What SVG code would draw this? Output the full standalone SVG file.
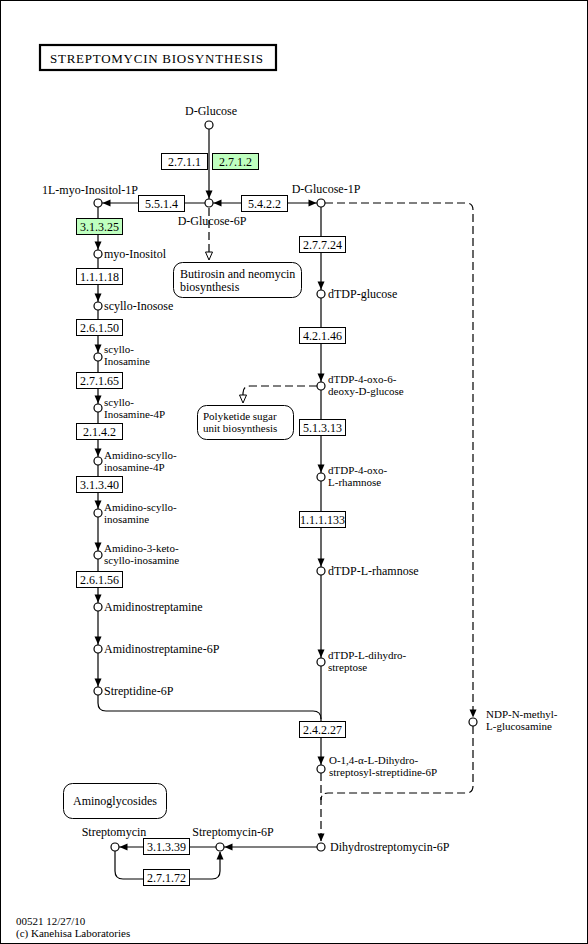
<svg xmlns="http://www.w3.org/2000/svg" xmlns:xlink="http://www.w3.org/1999/xlink" width="588" height="944" viewBox="0 0 588 944">
<style>
text{font-family:"Liberation Serif","Times New Roman",serif;font-size:12px;fill:#000}
.s{font-size:11px}
.m{text-anchor:middle}
.e{fill:#fff;stroke:#000;stroke-width:1}
.g{fill:#bfffbf;stroke:#000;stroke-width:1}
.map{fill:#fff;stroke:#000;stroke-width:1}
.c{fill:#fff;stroke:#000;stroke-width:1.2}
.ln{fill:none;stroke:#000;stroke-width:1.2}
.dl{fill:none;stroke:#000;stroke-width:1.2;stroke-dasharray:8,4}
</style>
<defs>
<polygon id="ah" points="0,0 -3.5,-8 3.5,-8" fill="#000"/>
<polygon id="oh" points="0,0 -3.5,-8 3.5,-8" fill="#fff" stroke="#000" stroke-width="1"/>
</defs>
<rect x="0.5" y="0.5" width="587" height="943" fill="#fff" stroke="#000" stroke-width="1"/>
<g id="title">
<rect x="40" y="45" width="236" height="25" fill="#fff" stroke="#000" stroke-width="2.2"/>
<text x="50" y="63" textLength="213" lengthAdjust="spacing" style="font-size:13px">STREPTOMYCIN  BIOSYNTHESIS</text>
</g>
<g id="connectors">
<path class="ln" d="M209,129 V199"/>
<path class="ln" d="M205,203 H102"/>
<path class="ln" d="M213,203 H317"/>
<path class="dl" d="M209,208 V252"/>
<path class="ln" d="M98,207 V687"/>
<path class="ln" d="M98,695 V703 Q98,711 106,711 H313 Q321,711 321,719"/>
<path class="ln" d="M321,207 V765"/>
<path class="dl" d="M321,773 V842"/>
<path class="dl" d="M325,203 H466 Q473,203 473,210 V718"/>
<path class="dl" d="M473,726 V786 Q473,793 466,793 H328 Q321,793 321,800"/>
<path class="dl" d="M317,386 H250 Q243,386 243,393 V395"/>
<path class="ln" d="M317,847 H224"/>
<path class="ln" d="M216,847 H119"/>
<path class="ln" d="M115,851 V871 Q115,879 123,879 H212 Q220,879 220,871 V852"/>
<use xlink:href="#ah" transform="translate(209,198.5)"/>
<use xlink:href="#ah" transform="translate(102.5,203) rotate(90)"/>
<use xlink:href="#ah" transform="translate(213.5,203) rotate(90)"/>
<use xlink:href="#ah" transform="translate(316.5,203) rotate(-90)"/>
<use xlink:href="#oh" transform="translate(209,260)"/>
<use xlink:href="#oh" transform="translate(243,403)"/>
<use xlink:href="#ah" transform="translate(98,249.5)"/>
<use xlink:href="#ah" transform="translate(98,301.5)"/>
<use xlink:href="#ah" transform="translate(98,352.5)"/>
<use xlink:href="#ah" transform="translate(98,403.5)"/>
<use xlink:href="#ah" transform="translate(98,456.5)"/>
<use xlink:href="#ah" transform="translate(98,508.5)"/>
<use xlink:href="#ah" transform="translate(98,550.5)"/>
<use xlink:href="#ah" transform="translate(98,602.5)"/>
<use xlink:href="#ah" transform="translate(98,644.5)"/>
<use xlink:href="#ah" transform="translate(98,686.5)"/>
<use xlink:href="#ah" transform="translate(321,289.5)"/>
<use xlink:href="#ah" transform="translate(321,381.5)"/>
<use xlink:href="#ah" transform="translate(321,472.5)"/>
<use xlink:href="#ah" transform="translate(321,566.5)"/>
<use xlink:href="#ah" transform="translate(321,657.5)"/>
<use xlink:href="#ah" transform="translate(321,764.5)"/>
<use xlink:href="#ah" transform="translate(321,841.5)"/>
<use xlink:href="#ah" transform="translate(473,717.5)"/>
<use xlink:href="#ah" transform="translate(224.5,847) rotate(90)"/>
<use xlink:href="#ah" transform="translate(119.5,847) rotate(90)"/>
<use xlink:href="#ah" transform="translate(220,851.5) rotate(180)"/>
</g>
<g id="enzymes">
<g id="e271_1"><rect class="e" x="161.5" y="153.5" width="46" height="16"/><text class="m" x="184.5" y="166">2.7.1.1</text></g>
<g id="e271_2"><rect class="g" x="212.5" y="153.5" width="46" height="16"/><text class="m" x="235.5" y="166">2.7.1.2</text></g>
<g id="e5514"><rect class="e" x="138.5" y="195.5" width="46" height="16"/><text class="m" x="161.5" y="208">5.5.1.4</text></g>
<g id="e5422"><rect class="e" x="241.5" y="195.5" width="46" height="16"/><text class="m" x="264.5" y="208">5.4.2.2</text></g>
<g id="e31325"><rect class="g" x="76.5" y="218.5" width="46" height="16"/><text class="m" x="99.5" y="231">3.1.3.25</text></g>
<g id="e11118"><rect class="e" x="76.5" y="268.5" width="46" height="16"/><text class="m" x="99.5" y="281">1.1.1.18</text></g>
<g id="e26150"><rect class="e" x="76.5" y="319.5" width="46" height="16"/><text class="m" x="99.5" y="332">2.6.1.50</text></g>
<g id="e27165"><rect class="e" x="76.5" y="372.5" width="46" height="16"/><text class="m" x="99.5" y="385">2.7.1.65</text></g>
<g id="e2142"><rect class="e" x="76.5" y="423.5" width="46" height="16"/><text class="m" x="99.5" y="436">2.1.4.2</text></g>
<g id="e31340"><rect class="e" x="76.5" y="476.5" width="46" height="16"/><text class="m" x="99.5" y="489">3.1.3.40</text></g>
<g id="e26156"><rect class="e" x="76.5" y="571.5" width="46" height="16"/><text class="m" x="99.5" y="584">2.6.1.56</text></g>
<g id="e27724"><rect class="e" x="299.5" y="236.5" width="46" height="16"/><text class="m" x="322.5" y="249">2.7.7.24</text></g>
<g id="e42146"><rect class="e" x="299.5" y="327.5" width="46" height="16"/><text class="m" x="322.5" y="340">4.2.1.46</text></g>
<g id="e51313"><rect class="e" x="299.5" y="419.5" width="46" height="16"/><text class="m" x="322.5" y="432">5.1.3.13</text></g>
<g id="e111133"><rect class="e" x="299.5" y="511.5" width="46" height="16"/><text class="m" x="322.5" y="524">1.1.1.133</text></g>
<g id="e24227"><rect class="e" x="299.5" y="721.5" width="46" height="16"/><text class="m" x="322.5" y="734">2.4.2.27</text></g>
<g id="e31339"><rect class="e" x="143.5" y="838.5" width="46" height="16"/><text class="m" x="166.5" y="851">3.1.3.39</text></g>
<g id="e27172"><rect class="e" x="143.5" y="869.5" width="46" height="16"/><text class="m" x="166.5" y="882">2.7.1.72</text></g>
</g>
<g id="maps">
<g id="map_butirosin"><rect class="map" x="173.5" y="262.5" width="128" height="35" rx="9"/><text x="180" y="278">Butirosin and neomycin</text><text x="180" y="291">biosynthesis</text></g>
<g id="map_polyketide"><rect class="map" x="197.5" y="405.5" width="96" height="34" rx="9"/><text class="s" x="203" y="420">Polyketide sugar</text><text class="s" x="203" y="432">unit biosynthesis</text></g>
<g id="map_aminoglycosides"><rect class="map" x="63.5" y="783.5" width="103" height="35" rx="9"/><text class="m" x="115" y="805">Aminoglycosides</text></g>
</g>
<g id="compounds">
<g id="c_dglucose"><circle class="c" cx="209" cy="125" r="4"/><text class="m" x="211" y="115">D-Glucose</text></g>
<g id="c_dglucose6p"><circle class="c" cx="209" cy="203" r="4"/><text class="m" x="212" y="225">D-Glucose-6P</text></g>
<g id="c_inositol1p"><circle class="c" cx="98" cy="203" r="4"/><text class="m" x="90" y="194">1L-myo-Inositol-1P</text></g>
<g id="c_dglucose1p"><circle class="c" cx="321" cy="203" r="4"/><text class="m" x="326" y="193">D-Glucose-1P</text></g>
<g id="c_myoinositol"><circle class="c" cx="98" cy="254" r="4"/><text x="104" y="258">myo-Inositol</text></g>
<g id="c_scylloinosose"><circle class="c" cx="98" cy="306" r="4"/><text x="104" y="310">scyllo-Inosose</text></g>
<g id="c_scylloinosamine"><circle class="c" cx="98" cy="357" r="4"/><text class="s" x="104" y="353">scyllo-</text><text class="s" x="104" y="365">Inosamine</text></g>
<g id="c_scylloinosamine4p"><circle class="c" cx="98" cy="408" r="4"/><text class="s" x="104" y="406">scyllo-</text><text class="s" x="104" y="418">Inosamine-4P</text></g>
<g id="c_amidino4p"><circle class="c" cx="98" cy="461" r="4"/><text class="s" x="104" y="459">Amidino-scyllo-</text><text class="s" x="104" y="471">inosamine-4P</text></g>
<g id="c_amidino"><circle class="c" cx="98" cy="513" r="4"/><text class="s" x="104" y="511">Amidino-scyllo-</text><text class="s" x="104" y="523">inosamine</text></g>
<g id="c_amidino3keto"><circle class="c" cx="98" cy="555" r="4"/><text class="s" x="104" y="552">Amidino-3-keto-</text><text class="s" x="104" y="564">scyllo-inosamine</text></g>
<g id="c_amidinostreptamine"><circle class="c" cx="98" cy="607" r="4"/><text x="104" y="611">Amidinostreptamine</text></g>
<g id="c_amidinostreptamine6p"><circle class="c" cx="98" cy="649" r="4"/><text x="104" y="653">Amidinostreptamine-6P</text></g>
<g id="c_streptidine6p"><circle class="c" cx="98" cy="691" r="4"/><text x="104" y="695">Streptidine-6P</text></g>
<g id="c_dtdpglucose"><circle class="c" cx="321" cy="294" r="4"/><text x="328" y="298">dTDP-glucose</text></g>
<g id="c_dtdp4oxo6"><circle class="c" cx="321" cy="386" r="4"/><text class="s" x="328" y="383">dTDP-4-oxo-6-</text><text class="s" x="328" y="395">deoxy-D-glucose</text></g>
<g id="c_dtdp4oxorham"><circle class="c" cx="321" cy="477" r="4"/><text class="s" x="328" y="474">dTDP-4-oxo-</text><text class="s" x="328" y="486">L-rhamnose</text></g>
<g id="c_dtdprham"><circle class="c" cx="321" cy="571" r="4"/><text x="328" y="575">dTDP-L-rhamnose</text></g>
<g id="c_dtdpdihydro"><circle class="c" cx="321" cy="662" r="4"/><text class="s" x="328" y="659">dTDP-L-dihydro-</text><text class="s" x="328" y="671">streptose</text></g>
<g id="c_odihydro"><circle class="c" cx="321" cy="769" r="4"/><text class="s" x="329" y="764">O-1,4-α-L-Dihydro-</text><text class="s" x="329" y="776">streptosyl-streptidine-6P</text></g>
<g id="c_ndp"><circle class="c" cx="473" cy="722" r="4"/><text class="s" x="486" y="718">NDP-N-methyl-</text><text class="s" x="486" y="730">L-glucosamine</text></g>
<g id="c_dihydrostreptomycin6p"><circle class="c" cx="321" cy="847" r="4"/><text x="330" y="851">Dihydrostreptomycin-6P</text></g>
<g id="c_streptomycin6p"><circle class="c" cx="220" cy="847" r="4"/><text class="m" x="233" y="836">Streptomycin-6P</text></g>
<g id="c_streptomycin"><circle class="c" cx="115" cy="847" r="4"/><text class="m" x="114" y="836">Streptomycin</text></g>
</g>
<g id="footer">
<text class="s" x="16" y="925">00521 12/27/10</text>
<text class="s" x="16" y="937">(c) Kanehisa Laboratories</text>
</g>
</svg>
